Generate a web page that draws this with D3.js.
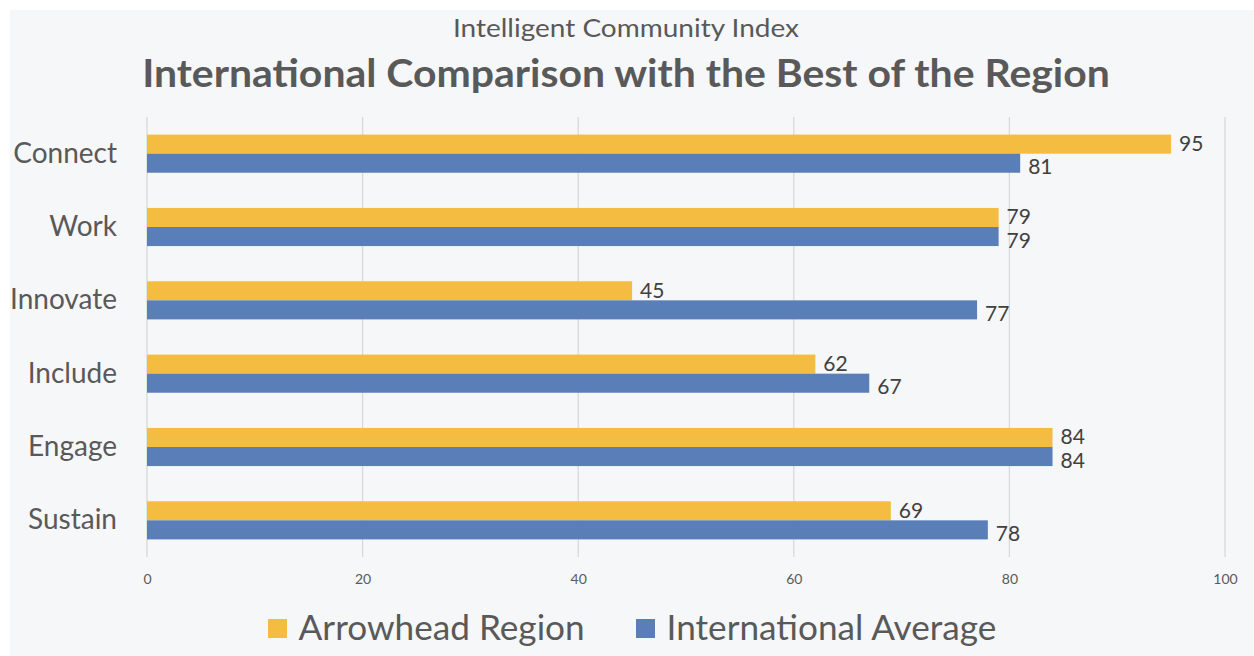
<!DOCTYPE html>
<html>
<head>
<meta charset="utf-8">
<script src="https://cdn.jsdelivr.net/npm/d3@7"></script>
<style>
  body { margin: 0; background: #fff; }
  svg { display: block; font-family: Lato, "Open Sans", sans-serif; }
</style>
</head>
<body>
<svg id="chart" width="1254" height="656"></svg>
<script>
var categories = ["Connect", "Work", "Innovate", "Include", "Engage", "Sustain"];
var seriesNames = ["Arrowhead Region", "International Average"];
var arrowhead = [95, 79, 45, 62, 84, 69];
var international = [81, 79, 77, 67, 84, 78];
var xTicks = [0, 20, 40, 60, 80, 100];
var colors = ["#F4BD41", "#5A7EB8"];

var svg = d3.select("#chart");
var margin = {top: 117, left: 147, right: 29, bottom: 100};

// panel background
svg.append("defs").append("clipPath").attr("id", "panel")
  .append("rect").attr("x", 10).attr("y", 10).attr("width", 1244).attr("height", 646);
var root = svg.append("g").attr("clip-path", "url(#panel)");
root.append("rect").attr("x", 10).attr("y", 10).attr("width", 1244).attr("height", 646)
  .attr("fill", "#f6f7f8");

// titles, a bit wide like the original export
root.append("text")
  .attr("transform", "translate(626,37) scale(1.12,1)")
  .attr("text-anchor", "middle")
  .attr("font-size", 25)
  .attr("fill", "#595959")
  .text("Intelligent Community Index");

root.append("text")
  .attr("transform", "translate(626,87) scale(1.05,1)")
  .attr("text-anchor", "middle")
  .attr("font-size", 39)
  .attr("font-weight", "bold")
  .attr("fill", "#595959")
  .text("International Comparison with the Best of the Region");

var g = root.append("g").attr("transform", "translate(" + margin.left + "," + margin.top + ")");

var x = d3.scaleLinear().domain([0, 100]).range([0, 1078]);
var y = d3.scaleBand().domain(categories).range([0, 440]).paddingInner(0.48).paddingOuter(0.24);
var ySub = d3.scaleBand().domain(seriesNames).range([0, y.bandwidth()]);

// grid + tick marks
g.append("g").selectAll("line").data(xTicks).enter().append("line")
  .attr("x1", function(d) { return x(d); })
  .attr("x2", function(d) { return x(d); })
  .attr("y1", 0).attr("y2", 440)
  .attr("stroke", "#d9d9d9").attr("stroke-width", 1.3);

g.append("g")
  .attr("transform", "translate(0," + 457 + ")")
  .call(d3.axisBottom(x).tickValues(xTicks).tickSize(0).tickPadding(0))
  .call(function(a) {
    a.select(".domain").remove();
    a.selectAll("text").attr("font-size", 14).attr("fill", "#595959")
      .attr("font-family", "Lato, 'Open Sans', sans-serif");
  });

// category labels
g.append("g")
  .attr("transform", "translate(-30,0)")
  .call(d3.axisLeft(y).tickSize(0).tickPadding(0))
  .call(function(a) {
    a.select(".domain").remove();
    a.selectAll("text").attr("font-size", 28).attr("fill", "#595959")
      .attr("font-family", "Lato, 'Open Sans', sans-serif");
  });

var rows = categories.map(function(c, i) {
  return {cat: c, values: [arrowhead[i], international[i]]};
});

var group = g.selectAll(".row").data(rows).enter().append("g")
  .attr("class", "row")
  .attr("transform", function(d) { return "translate(0," + y(d.cat) + ")"; });

group.selectAll("rect")
  .data(function(d) { return d.values.map(function(v, j) { return {name: seriesNames[j], value: v, j: j}; }); })
  .enter().append("rect")
  .attr("x", 0)
  .attr("y", function(d) { return ySub(d.name); })
  .attr("width", function(d) { return x(d.value); })
  .attr("height", ySub.bandwidth())
  .attr("fill", function(d) { return colors[d.j]; });

group.selectAll(".val")
  .data(function(d) { return d.values.map(function(v, j) { return {name: seriesNames[j], value: v, j: j}; }); })
  .enter().append("text")
  .attr("class", "val")
  .attr("x", function(d) { return x(d.value) + 8; })
  .attr("y", function(d) { return ySub(d.name) + ySub.bandwidth() / 2 + (d.j === 0 ? 7 : 11); })
  .attr("font-size", 21)
  .attr("fill", "#404040")
  .text(function(d) { return d.value; });

// legend
var legendX = [268, 636];
var legend = root.selectAll(".legend").data(seriesNames).enter().append("g")
  .attr("class", "legend")
  .attr("transform", function(d, i) { return "translate(" + legendX[i] + ",619)"; });
legend.append("rect").attr("width", 19).attr("height", 19)
  .attr("fill", function(d, i) { return colors[i]; });
legend.append("text").attr("x", 30).attr("y", 21)
  .attr("transform", "scale(1.02,1)")
  .attr("font-size", 34.5).attr("fill", "#595959")
  .text(function(d) { return d; });
</script>
</body>
</html>
